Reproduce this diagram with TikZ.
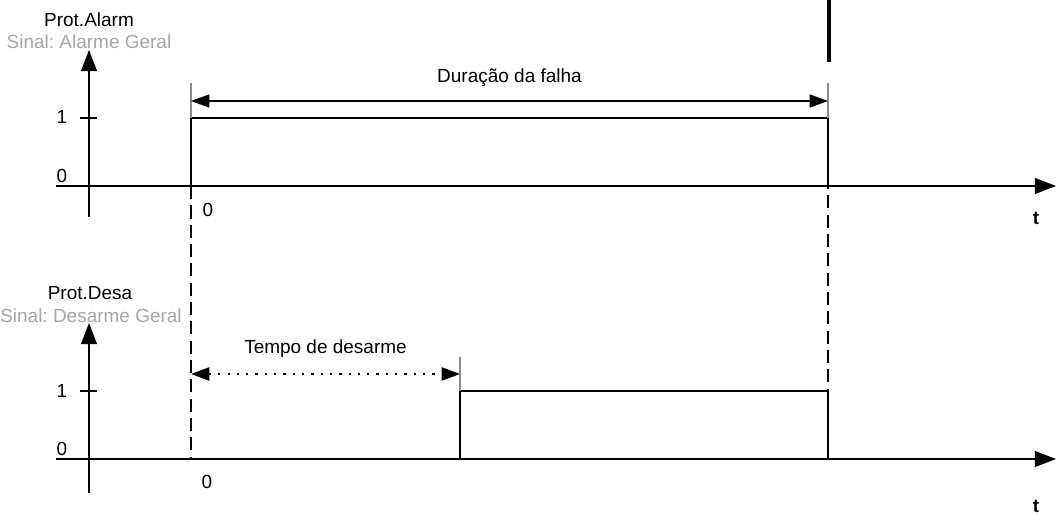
\documentclass[tikz,border=0pt]{standalone}
\usepackage{fontspec}
\setmainfont{Liberation Sans}
\usetikzlibrary{arrows.meta, positioning, calc}
\frenchspacing

\begin{document}
\begin{tikzpicture}[
    x=0.02cm, y=-0.02cm,
    axis/.style={line width=0.9pt, -{Triangle[length=12pt, width=9pt]}},
    pulse/.style={line width=0.75pt},
    guide/.style={line width=1.4pt, dash pattern=on 7.5pt off 3.5pt},
    ext/.style={draw=black!45, line width=0.6pt},
    dim/.style={line width=0.6pt, {Triangle[length=10.5pt, width=7.5pt]}-{Triangle[length=10.5pt, width=7.5pt]}},
    lbl/.style={font=\fontsize{10.8}{12}\selectfont, inner sep=0pt},
    sig/.style={lbl, text=black!35}
]
    \useasboundingbox (0,0) rectangle (1056,517);

    % signal 1: alarme
    \node[lbl] (alarm) at (89,20) {Prot.Alarm};
    \node[sig] (alarmsig) at (89,42) {Sinal: Alarme Geral};
    \coordinate (ya0) at (89,217);
    \coordinate (ya1) at (89,50);
    \coordinate (xa0) at (56,186);
    \coordinate (xa1) at (1056,186);
    \draw[axis] (ya0) -- (ya1);
    \draw[axis] (xa0) -- (xa1);
    \draw[pulse] (80,118) -- (97,118);
    \node[lbl] (a1) at (62,117) {1};
    \node[lbl] (a0) at (62,176) {0};
    \node[lbl] (at0) at (208,210) {0};
    \node[lbl, font=\fontsize{10.8}{12}\selectfont\bfseries] (at) at (1036,218) {t};

    \coordinate (aon) at (191,186);
    \coordinate (aoff) at (828,186);
    \draw[pulse] (aon) |- (828,118) -- (aoff);
    \draw[ext] (191,118) -- (191,83);
    \draw[ext] (828,118) -- (828,83);
    \draw[dim] (191,101) -- node[lbl, above=8pt] (falha) {Duração da falha} (828,101);
    \draw[line width=2.8pt] (829,0) -- (829,62);

    % signal 2: desarme
    \node[lbl] (desa) at (90,293) {Prot.Desa};
    \node[sig] (desasig) at (91,316) {Sinal: Desarme Geral};
    \coordinate (yb0) at (89,493);
    \coordinate (yb1) at (89,323);
    \coordinate (xb0) at (56,459);
    \coordinate (xb1) at (1056,459);
    \draw[axis] (yb0) -- (yb1);
    \draw[axis] (xb0) -- (xb1);
    \draw[pulse] (80,391) -- (97,391);
    \node[lbl] (b1) at (62,391) {1};
    \node[lbl] (b0) at (62,449) {0};
    \node[lbl] (bt0) at (207,482) {0};
    \node[lbl, font=\fontsize{10.8}{12}\selectfont\bfseries] (bt) at (1036,506) {t};

    \coordinate (bon) at (460,459);
    \coordinate (boff) at (828,459);
    \draw[pulse] (bon) |- (828,391) -- (boff);
    \draw[ext] (460,391) -- (460,357);
    \draw[dim, line width=1.3pt, dash pattern=on 1.3pt off 4pt] (191,374) -- node[lbl, above=9pt] (desarme) {Tempo de desarme} (460,374);

    % guides
    \draw[guide] (aon) -- (191,459);
    \draw[guide] (828,118) -- (boff);
\end{tikzpicture}
\end{document}
